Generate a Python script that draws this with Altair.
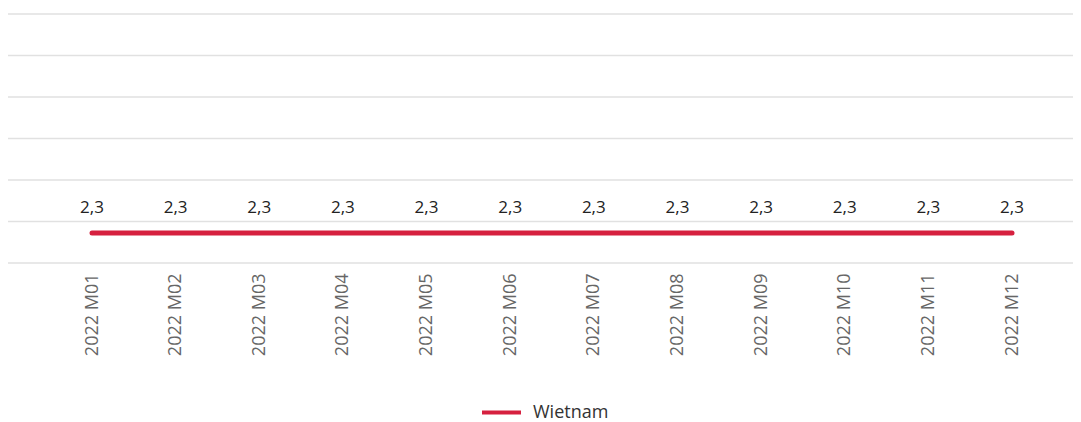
import altair as alt
import pandas as pd

months = ["2022 M01", "2022 M02", "2022 M03", "2022 M04", "2022 M05", "2022 M06",
          "2022 M07", "2022 M08", "2022 M09", "2022 M10", "2022 M11", "2022 M12"]
values = [2.3, 2.3, 2.3, 2.3, 2.3, 2.3, 2.3, 2.3, 2.3, 2.3, 2.3, 2.3]
series = ["Wietnam"] * 12
grid_values = [2.0, 2.4167, 2.8333, 3.25, 3.6667, 4.0833, 4.5]

df = pd.DataFrame({"month": months, "value": values, "country": series})
grid_df = pd.DataFrame({"g": grid_values})

y_scale = alt.Scale(domain=[2.0, 4.5], nice=False, zero=False)

x = alt.X("month:N", sort=months, title=None,
          scale=alt.Scale(type="point", range=[84, 1004], padding=0),
          axis=alt.Axis(labelAngle=-90, labelPadding=10, ticks=False, domain=False,
                        grid=False, labelColor="#666666", labelFontSize=18,
                        labelFont="Open Sans", labelAlign="right", labelBaseline="middle"))
y = alt.Y("value:Q", title=None, scale=y_scale, axis=None)

grid = alt.Chart(grid_df).mark_rule(color="#e1e1e1", strokeWidth=1.5).encode(
    y=alt.Y("g:Q", scale=y_scale, axis=None),
    x=alt.value(0), x2=alt.value(1065),
)

base = alt.Chart(df)

line = base.mark_line(strokeWidth=5, strokeCap="round").encode(
    x=x, y=y,
    color=alt.Color("country:N", title=None,
                    scale=alt.Scale(range=["#D6203F"]),
                    legend=alt.Legend(orient="none", legendX=472, legendY=377,
                                      direction="horizontal", symbolType="stroke",
                                      symbolStrokeWidth=4, symbolSize=1520,
                                      labelFontSize=18, labelFont="Open Sans",
                                      labelOffset=10, labelColor="#333333"))
)

labels = base.mark_text(dy=-25, fontSize=17, font="Open Sans", color="#222222").encode(
    x=x, y=y, text=alt.Text("value:Q", format=".1f")
)

chart = (grid + line + labels).properties(
    width=1065, height=249,
    autosize=alt.AutoSizeParams(type="none"),
    padding={"left": 0, "top": 6, "right": 0, "bottom": 164},
).configure(
    locale={"number": {"decimal": ",", "thousands": " ", "grouping": [3], "currency": ["", " zł"]}}
).configure_view(stroke=None)

chart.save("out.html", embed_options={"renderer": "svg", "actions": False})
